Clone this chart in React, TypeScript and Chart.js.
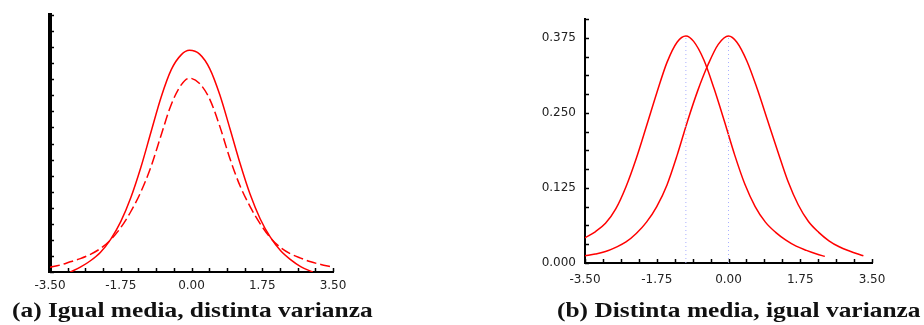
import React, { useEffect, useRef } from "react";
import { Chart, registerables } from "chart.js";

Chart.register(...registerables);

// ---------- Panel (a): Igual media, distinta varianza ----------
const aTallX = [-3.0, -2.75, -2.5, -2.25, -2.0, -1.75, -1.5, -1.25, -1.0, -0.75, -0.5, -0.25, -0.05, 0.2, 0.45, 0.7, 0.95, 1.2, 1.45, 1.7, 1.95, 2.2, 2.45, 2.7, 3.0];
const aTallY = [0, 0.009, 0.021, 0.037, 0.061, 0.094, 0.139, 0.196, 0.262, 0.327, 0.378, 0.406, 0.414, 0.407, 0.38, 0.331, 0.268, 0.203, 0.145, 0.099, 0.065, 0.04, 0.023, 0.01, 0];

const aWideX = [-3.5, -3.25, -3.0, -2.75, -2.5, -2.25, -2.0, -1.75, -1.5, -1.25, -1.0, -0.75, -0.5, -0.25, -0.05, 0.2, 0.45, 0.7, 0.95, 1.2, 1.45, 1.7, 1.95, 2.2, 2.45, 2.7, 2.95, 3.2, 3.45];
const aWideY = [0.009, 0.013, 0.019, 0.025, 0.033, 0.044, 0.06, 0.083, 0.113, 0.15, 0.197, 0.256, 0.313, 0.35, 0.362, 0.352, 0.323, 0.272, 0.212, 0.161, 0.122, 0.09, 0.064, 0.046, 0.034, 0.026, 0.019, 0.014, 0.01];

// ---------- Panel (b): Distinta media, igual varianza ----------
const bLeftX = [-3.5, -3.25, -3.0, -2.75, -2.5, -2.25, -2.0, -1.75, -1.5, -1.25, -1.04, -0.85, -0.6, -0.35, -0.1, 0.15, 0.4, 0.65, 0.9, 1.15, 1.4, 1.65, 1.9, 2.15, 2.35];
const bLeftY = [0.042, 0.052, 0.066, 0.09, 0.127, 0.174, 0.228, 0.283, 0.334, 0.368, 0.378, 0.369, 0.338, 0.29, 0.236, 0.18, 0.131, 0.094, 0.068, 0.051, 0.038, 0.028, 0.021, 0.015, 0.011];

const bRightX = [-3.5, -3.25, -3.0, -2.75, -2.5, -2.25, -2.0, -1.75, -1.5, -1.25, -1.0, -0.75, -0.5, -0.25, 0.0, 0.2, 0.45, 0.7, 0.95, 1.2, 1.45, 1.7, 1.95, 2.2, 2.45, 2.7, 2.95, 3.29];
const bRightY = [0.012, 0.015, 0.019, 0.026, 0.035, 0.049, 0.068, 0.094, 0.13, 0.18, 0.236, 0.287, 0.33, 0.364, 0.378, 0.368, 0.336, 0.29, 0.238, 0.186, 0.136, 0.097, 0.069, 0.051, 0.037, 0.027, 0.02, 0.012];

const bMeans = [-1.04, 0.0];
const bPeak = 0.378;

const xMin = -3.5;
const xMax = 3.5;
const xStep = 0.4375;
const xLabelEvery = 1.75;
const aYMax = 0.48;
const aYStep = 0.03;
const bYMax = 0.40625;
const bYStep = 0.03125;
const bYLabelEvery = 0.125;

const captionA = "(a) Igual media, distinta varianza";
const captionB = "(b) Distinta media, igual varianza";

const RED = "#ff0000";
const TICK_FONT = { family: "DejaVu Sans", size: 12 };

const pts = (xs: number[], ys: number[]) => xs.map((x, i) => ({ x, y: ys[i] }));
const isMultiple = (v: number, m: number) => Math.abs(v / m - Math.round(v / m)) < 1e-6;

const innerTicks = {
  id: "innerTicks",
  afterDraw(chart: any, _args: any, opts: any) {
    const { ctx, chartArea } = chart;
    const len = opts.length ?? 4;
    ctx.save();
    ctx.strokeStyle = "#000";
    ctx.lineWidth = opts.width ?? 1.5;
    const xs = chart.scales.x;
    const ys = chart.scales.y;
    xs.ticks.forEach((t: any) => {
      const p = Math.round(xs.getPixelForValue(t.value)) + 0.5;
      ctx.beginPath();
      ctx.moveTo(p, chartArea.bottom);
      ctx.lineTo(p, chartArea.bottom - len);
      ctx.stroke();
    });
    ys.ticks.forEach((t: any) => {
      const p = Math.round(ys.getPixelForValue(t.value)) + 0.5;
      ctx.beginPath();
      ctx.moveTo(chartArea.left, p);
      ctx.lineTo(chartArea.left + len, p);
      ctx.stroke();
    });
    ctx.restore();
  },
};

export default function App() {
  const refA = useRef<HTMLCanvasElement>(null);
  const refB = useRef<HTMLCanvasElement>(null);

  useEffect(() => {
    const xScale = (height: number, labelPad: number) => ({
      type: "linear",
      min: xMin,
      max: xMax,
      afterFit: (s: any) => {
        s.height = height;
      },
      ticks: {
        stepSize: xStep,
        autoSkip: false,
        maxRotation: 0,
        padding: labelPad,
        color: "#222",
        font: TICK_FONT,
        callback: (v: any) => (isMultiple(Number(v), xLabelEvery) ? Number(v).toFixed(2) : ""),
      },
      grid: { display: false, drawTicks: false },
      border: { display: true, color: "#000", width: 2 },
    });

    const curve = (xs: number[], ys: number[], dash: number[] = []) => ({
      data: pts(xs, ys),
      borderColor: RED,
      borderWidth: 1.5,
      borderDash: dash,
      pointRadius: 0,
      cubicInterpolationMode: "monotone",
    });

    const chartA = new Chart(refA.current!, {
      type: "line",
      data: {
        datasets: [curve(aTallX, aTallY), curve(aWideX, aWideY, [10, 4])],
      },
      options: {
        animation: false,
        responsive: false,
        layout: { padding: { left: 0, right: 37, top: 15, bottom: 0 } },
        plugins: { legend: { display: false }, tooltip: { enabled: false }, innerTicks: { length: 4, width: 1.5 } } as any,
        scales: {
          x: xScale(28, 7) as any,
          y: {
            type: "linear",
            min: 0,
            max: aYMax,
            afterFit: (s: any) => {
              s.width = 50;
            },
            ticks: { stepSize: aYStep, display: false },
            grid: { display: false, drawTicks: false },
            border: { display: true, color: "#000", width: 4 },
          },
        },
      },
      plugins: [innerTicks],
    } as any);

    const guideSets = bMeans.map((m) => ({
      data: [
        { x: m, y: 0 },
        { x: m, y: bPeak },
      ],
      borderColor: "#a9b0ff",
      borderWidth: 1,
      borderDash: [1, 3],
      pointRadius: 0,
    }));

    const chartB = new Chart(refB.current!, {
      type: "line",
      data: {
        datasets: [...guideSets, curve(bLeftX, bLeftY), curve(bRightX, bRightY)],
      },
      options: {
        animation: false,
        responsive: false,
        layout: { padding: { left: 0, right: 52, top: 19, bottom: 0 } },
        plugins: { legend: { display: false }, tooltip: { enabled: false }, innerTicks: { length: 4, width: 1.5 } } as any,
        scales: {
          x: xScale(37, 10) as any,
          y: {
            type: "linear",
            min: 0,
            max: bYMax,
            afterFit: (s: any) => {
              s.width = 65;
            },
            ticks: {
              stepSize: bYStep,
              autoSkip: false,
              padding: 9,
              color: "#222",
              font: TICK_FONT,
              callback: (v: any) => (isMultiple(Number(v), bYLabelEvery) ? Number(v).toFixed(3) : ""),
            },
            grid: { display: false, drawTicks: false },
            border: { display: true, color: "#000", width: 2 },
          },
        },
      },
      plugins: [innerTicks],
    } as any);

    return () => {
      chartA.destroy();
      chartB.destroy();
    };
  }, []);

  const captionStyle: React.CSSProperties = {
    position: "absolute",
    top: 300,
    fontFamily: "'Liberation Serif', 'Times New Roman', serif",
    fontWeight: "bold",
    fontSize: 21,
    lineHeight: "21px",
    whiteSpace: "nowrap",
    color: "#111",
    transform: "scaleX(1.21)",
    transformOrigin: "left top",
  };

  return (
    <div style={{ position: "fixed", left: 0, top: 0, width: 924, height: 325, background: "#fff", overflow: "hidden" }}>
      <canvas ref={refA} width={370} height={300} style={{ position: "absolute", left: 0, top: 0, display: "block" }} />
      <canvas ref={refB} width={404} height={300} style={{ position: "absolute", left: 520, top: 0, display: "block" }} />
      <div style={{ ...captionStyle, left: 12 }}>{captionA}</div>
      <div style={{ ...captionStyle, left: 557 }}>{captionB}</div>
    </div>
  );
}
